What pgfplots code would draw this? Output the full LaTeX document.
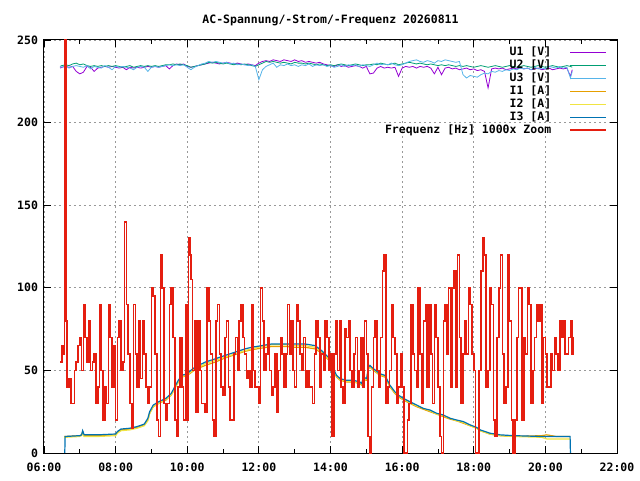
\documentclass[border=0pt]{standalone}
\usepackage{fontspec}
\setmainfont{DejaVu Sans Mono}
\usepackage{pgfplots}
\pgfplotsset{compat=1.18}
\usepackage{pgfplotstable}
\definecolor{gpPurple}{HTML}{9400D3}
\definecolor{gpGreen}{HTML}{009E73}
\definecolor{gpSky}{HTML}{56B4E9}
\definecolor{gpOrange}{HTML}{E69F00}
\definecolor{gpYellow}{HTML}{F0E442}
\definecolor{gpBlue}{HTML}{0072B2}
\definecolor{gpRed}{HTML}{E51E10}

\pgfplotstableread{
t u1 u2 u3
6.45 233.0 234.0 234.0
6.5 233.5 234.5 233.5
6.6 234.0 235.0 234.5
6.7 233.5 234.5 233.0
6.8 234.0 235.5 234.0
6.9 231.0 236.0 234.5
7.0 229.5 235.0 234.0
7.1 230.5 235.5 233.5
7.2 234.0 234.5 234.5
7.3 233.5 234.0 232.5
7.4 231.0 234.5 234.0
7.5 233.0 234.0 233.5
7.6 233.5 234.5 233.0
7.7 234.0 234.0 234.5
7.8 233.5 234.5 233.5
7.9 234.0 234.0 232.0
8.0 233.5 234.5 234.0
8.1 233.0 234.0 233.5
8.2 233.5 233.5 234.0
8.3 232.0 234.0 233.5
8.4 233.5 234.5 233.0
8.5 233.0 233.5 232.0
8.6 233.5 234.0 233.5
8.7 233.0 234.5 234.0
8.8 233.5 234.0 233.5
8.9 234.0 234.5 231.0
9.0 233.5 234.0 233.5
9.1 234.0 234.5 234.0
9.2 233.5 234.0 233.5
9.3 234.0 234.5 234.0
9.4 234.5 235.0 234.5
9.5 232.5 235.0 235.0
9.6 234.5 235.5 234.5
9.7 235.5 235.0 235.0
9.8 235.0 235.5 234.5
9.9 235.5 235.0 235.0
10.0 234.0 234.5 233.5
10.1 233.5 233.5 232.0
10.2 234.0 234.0 233.5
10.3 234.5 234.5 234.5
10.4 235.0 235.0 235.5
10.5 235.5 235.5 236.0
10.6 236.0 236.5 237.0
10.7 236.5 236.0 236.5
10.8 236.0 236.5 237.0
10.9 235.5 236.0 236.5
11.0 236.0 235.5 236.0
11.1 236.5 236.0 236.5
11.2 236.0 235.5 235.5
11.3 235.5 235.0 236.0
11.4 236.0 235.5 235.0
11.5 235.5 235.0 235.5
11.6 235.0 235.5 235.0
11.7 235.5 235.0 234.5
11.8 235.0 234.5 235.0
11.9 234.5 234.0 234.0
12.0 236.0 235.0 226.0
12.1 237.0 236.0 232.0
12.2 237.5 237.0 234.0
12.3 237.0 236.5 235.0
12.4 238.0 237.0 236.0
12.5 237.5 236.5 233.5
12.6 237.0 236.0 235.0
12.7 238.0 236.5 234.5
12.8 237.5 236.0 235.5
12.9 237.0 235.5 234.5
13.0 238.0 236.5 235.0
13.1 237.0 236.0 234.0
13.2 237.5 236.0 235.0
13.3 236.5 235.5 234.5
13.4 237.0 236.0 235.5
13.5 236.5 235.5 234.0
13.6 236.0 235.0 235.0
13.7 236.5 235.5 234.5
13.8 235.5 235.0 235.0
13.9 235.0 234.5 234.0
14.0 234.5 235.0 234.5
14.1 234.0 234.5 233.5
14.2 235.0 235.0 234.0
14.3 234.0 235.5 235.0
14.4 234.5 235.0 234.0
14.5 233.5 234.5 235.0
14.6 234.0 235.0 234.5
14.7 234.5 235.5 235.0
14.8 234.0 235.0 234.0
14.9 233.0 234.5 235.0
15.0 234.0 235.0 234.5
15.1 229.5 235.0 234.0
15.2 230.0 235.5 235.0
15.3 233.0 235.0 236.0
15.4 234.0 236.0 235.0
15.5 233.0 235.5 235.5
15.6 233.5 235.0 235.0
15.7 233.0 235.5 236.0
15.8 233.5 236.0 235.0
15.9 228.0 235.0 234.5
16.0 233.0 235.5 235.0
16.1 234.0 236.0 236.0
16.2 233.5 236.5 237.0
16.3 234.0 236.0 237.5
16.4 233.0 235.5 238.0
16.5 234.0 236.0 237.0
16.6 233.5 235.5 236.5
16.7 234.0 235.0 237.5
16.8 233.0 235.5 237.0
16.9 229.5 235.0 236.0
17.0 233.5 234.5 237.5
17.1 229.0 235.0 237.0
17.2 233.0 234.5 238.0
17.3 233.5 235.0 237.5
17.4 232.5 234.5 237.0
17.5 233.0 234.0 236.5
17.6 232.0 234.5 237.0
17.7 232.5 234.0 229.0
17.8 233.0 234.5 227.0
17.9 232.0 234.0 228.5
18.0 232.5 233.5 228.0
18.1 231.5 234.0 227.5
18.2 232.0 234.5 229.0
18.3 231.0 234.0 230.0
18.4 221.0 233.5 229.5
18.5 232.5 234.0 231.0
18.6 233.0 234.5 230.5
18.7 232.5 234.0 231.5
18.8 233.0 233.5 231.0
18.9 232.0 234.0 232.0
19.0 232.5 234.5 231.5
19.1 233.0 234.0 232.5
19.2 232.5 233.5 232.0
19.3 233.0 234.0 233.0
19.4 232.5 234.5 232.5
19.5 233.0 234.0 233.0
19.6 232.0 233.5 232.0
19.7 232.5 234.0 233.5
19.8 233.0 234.5 232.5
19.9 232.0 234.0 233.0
20.0 232.5 233.5 232.5
20.1 233.0 234.0 234.0
20.2 232.0 234.5 233.5
20.3 232.5 234.0 233.0
20.4 233.0 233.5 234.0
20.5 232.5 234.0 233.0
20.6 233.0 234.5 233.5
20.7 228.0 234.0 227.0
20.75 232.0 233.5 231.0
}\volt

\pgfplotstableread{
t i1 i2 i3
6.56 10 9.5 nan
6.58 10 9.5 0
6.59 10 9.5 10
7.00 10.5 10 10.5
7.05 11 10.5 11
7.08 13 12 13.5
7.12 10.5 10 11
7.50 10.5 10 11
8.00 11 10.5 11.5
8.05 12.5 12 13
8.15 14 13.5 14.5
8.40 14.5 14 15
8.60 15.5 15 16
8.80 17 16.5 17.5
8.90 20 19.5 21
8.95 24 24 25
9.05 28 28 29
9.20 30 30 31
9.40 32 32.5 33
9.55 35 35 36
9.65 39 39 40
9.75 43 43 44
9.85 46 46 47
10.00 47 47.5 48
10.10 48.5 49 50
10.22 50.5 51 52
10.50 53 54 55
10.78 55 56 57
11.05 57.5 58 59
11.33 59.5 60 61
11.61 61.5 62 63
11.80 62.5 63 64
12.08 63.5 64.5 65
12.36 64.5 65.5 66
12.73 64.5 65.5 66
13.01 64 65 66
13.29 64 65 66
13.57 63 64 65
13.75 60.5 61.5 62
13.94 56.5 57 58
14.08 49.5 50 51
14.17 46 46.5 47
14.27 44 44.5 45
14.45 43 43.5 44
14.64 43 43 44
14.82 42 42.5 43
14.87 41 41.5 42
14.92 44.5 45 46
15.01 44 44.5 45
15.06 51 51.5 52
15.10 52 52.5 53
15.20 50 50.5 51
15.38 47 47.5 48
15.52 46 46.5 47
15.66 40 40.5 41
15.80 36 36.5 37
15.90 34 34.5 35
16.04 32 32.5 33
16.22 30 30.5 31
16.41 28 28.5 29
16.59 26.5 27 27
16.78 25 25.5 26
16.97 23.5 23.5 24
17.15 22 22.5 23
17.34 20.5 21 21
17.52 19.5 19.5 20
17.71 18 18.5 19
17.90 16.5 16.5 17
18.08 15 15 15.5
18.18 13.5 13.5 14
18.45 11.5 11.5 12
18.73 10.5 10.5 11
19.11 10 10 10.5
19.90 10.5 9.5 10
20.04 11 8.5 10
20.30 10 8.5 10
20.69 10 8.5 10
20.70 nan nan 0
}\curr

\pgfplotstableread{
t f
6.45 55
6.50 65
6.55 60
6.57 300
6.61 80
6.65 40
6.70 45
6.75 30
6.80 30
6.85 50
6.90 55
6.95 65
7.00 70
7.05 50
7.10 90
7.15 70
7.20 55
7.25 80
7.30 50
7.35 55
7.40 60
7.45 30
7.50 40
7.55 90
7.60 50
7.65 20
7.70 40
7.75 30
7.80 90
7.85 70
7.90 40
7.95 65
8.00 20
8.05 70
8.10 80
8.15 50
8.20 55
8.25 140
8.30 90
8.35 60
8.40 30
8.45 15
8.50 90
8.55 60
8.60 40
8.65 80
8.70 45
8.75 80
8.80 60
8.85 40
8.90 30
8.95 40
9.00 100
9.05 95
9.10 60
9.15 20
9.20 10
9.25 120
9.30 100
9.35 30
9.40 20
9.45 30
9.50 90
9.55 100
9.60 70
9.65 20
9.70 10
9.75 40
9.80 70
9.85 40
9.90 20
9.95 90
10.00 20
10.03 130
10.07 120
10.10 105
10.15 50
10.20 80
10.25 25
10.30 80
10.35 50
10.40 30
10.45 30
10.50 25
10.55 100
10.60 80
10.65 60
10.70 20
10.75 10
10.80 80
10.85 90
10.90 60
10.95 40
11.00 35
11.05 70
11.10 80
11.15 40
11.20 20
11.25 20
11.30 60
11.35 70
11.40 50
11.45 80
11.50 90
11.55 70
11.60 60
11.65 45
11.70 50
11.75 40
11.80 90
11.85 50
11.90 40
11.95 40
12.00 30
12.05 100
12.10 80
12.15 50
12.20 60
12.25 70
12.30 50
12.35 35
12.40 40
12.45 60
12.50 25
12.55 50
12.60 70
12.65 60
12.70 40
12.75 60
12.80 90
12.85 60
12.90 80
12.95 50
13.00 40
13.05 90
13.10 80
13.15 60
13.20 50
13.25 70
13.30 40
13.35 50
13.40 40
13.45 40
13.50 30
13.55 60
13.60 80
13.65 70
13.70 40
13.75 60
13.80 50
13.85 80
13.90 70
13.95 50
14.00 60
14.05 10
14.10 60
14.15 80
14.20 50
14.25 80
14.30 40
14.35 30
14.40 75
14.45 70
14.50 80
14.55 50
14.60 40
14.65 60
14.70 70
14.75 40
14.80 50
14.85 70
14.90 40
14.95 80
15.00 60
15.05 10
15.10 0
15.15 40
15.20 70
15.25 80
15.30 50
15.35 40
15.40 70
15.45 110
15.50 120
15.55 30
15.60 40
15.65 50
15.70 90
15.75 70
15.80 60
15.85 30
15.90 40
15.95 60
16.00 40
16.05 0
16.10 0
16.15 20
16.20 30
16.25 90
16.30 60
16.35 50
16.40 40
16.45 100
16.50 60
16.55 30
16.60 80
16.65 90
16.70 40
16.75 90
16.80 60
16.85 30
16.90 90
16.95 70
17.00 40
17.05 10
17.10 0
17.15 80
17.20 90
17.25 60
17.30 100
17.35 40
17.40 100
17.45 110
17.50 40
17.55 120
17.60 70
17.65 30
17.70 60
17.75 80
17.80 60
17.85 100
17.90 90
17.95 60
18.00 50
18.05 0
18.10 0
18.15 50
18.20 110
18.25 130
18.30 120
18.35 40
18.40 50
18.45 100
18.50 90
18.55 20
18.60 10
18.65 70
18.70 100
18.75 120
18.80 60
18.85 30
18.90 40
18.95 120
19.00 80
19.05 20
19.10 0
19.15 20
19.20 70
19.25 100
19.30 100
19.35 20
19.40 70
19.45 60
19.50 100
19.55 90
19.60 30
19.65 50
19.70 70
19.75 90
19.80 80
19.85 90
19.90 30
19.95 70
20.00 60
20.05 40
20.10 40
20.15 60
20.20 50
20.25 70
20.30 60
20.35 50
20.40 80
20.45 70
20.50 80
20.55 60
20.60 60
20.65 70
20.70 80
20.75 60
20.78 70
}\freq

\begin{document}
\fontsize{11.5}{13}\selectfont\bfseries
\begin{tikzpicture}
\path[use as bounding box] (-44pt,-27pt) rectangle (596pt,453pt);
\begin{axis}[
  scale only axis, width=573pt, height=413pt,
  xmin=6, xmax=22, ymin=0, ymax=250,
  xtick={6,8,10,12,14,16,18,20,22},
  xticklabels={06:00,08:00,10:00,12:00,14:00,16:00,18:00,20:00,22:00},
  minor xtick={7,9,11,13,15,17,19,21},
  ytick={0,50,100,150,200,250},
  tick align=inside,
  major tick length=7pt, minor tick length=4pt,
  every tick/.style={black, line width=0.8pt},
  grid=major,
  major grid style={color=black!40, line width=0.8pt, dash pattern=on 2pt off 3pt},
  axis line style={black, line width=1pt},
  font=\fontsize{11.5}{13}\selectfont\bfseries,
  /pgf/number format/assume math mode=true,
  xticklabel style={anchor=base, yshift=-18pt},
  yticklabel style={anchor=east, xshift=-2pt},
  title={AC-Spannung/-Strom/-Frequenz 20260811},
  title style={anchor=center, at={(0.5,1)}, yshift=14pt},
  legend style={draw=none, fill=none, at={(1,1)}, anchor=north east,
     xshift=-10pt, yshift=-5pt, row sep=-1.5pt, column sep=16pt, inner sep=0pt,
     font=\fontsize{11.5}{13}\selectfont\bfseries},
  legend cell align=right,
  legend plot pos=right,
  legend image code/.code={\draw[#1] (0pt,0pt) -- (36pt,0pt);},
]
\addplot[gpPurple, line width=0.8pt] table[x=t, y=u1] {\volt};
\addlegendentry{U1 [V]}
\addplot[gpGreen, line width=0.8pt] table[x=t, y=u2] {\volt};
\addlegendentry{U2 [V]}
\addplot[gpSky, line width=0.8pt] table[x=t, y=u3] {\volt};
\addlegendentry{U3 [V]}
\addplot[gpOrange, line width=1.2pt] table[x=t, y=i1] {\curr};
\addlegendentry{I1 [A]}
\addplot[gpYellow, line width=1.2pt] table[x=t, y=i2] {\curr};
\addlegendentry{I2 [A]}
\addplot[gpBlue, line width=1.2pt] table[x=t, y=i3] {\curr};
\addlegendentry{I3 [A]}
\addplot[gpRed, line width=1.6pt, const plot] table[x=t, y=f] {\freq};
\addlegendentry{Frequenz [Hz] 1000x Zoom}
\end{axis}
\end{tikzpicture}
\end{document}
